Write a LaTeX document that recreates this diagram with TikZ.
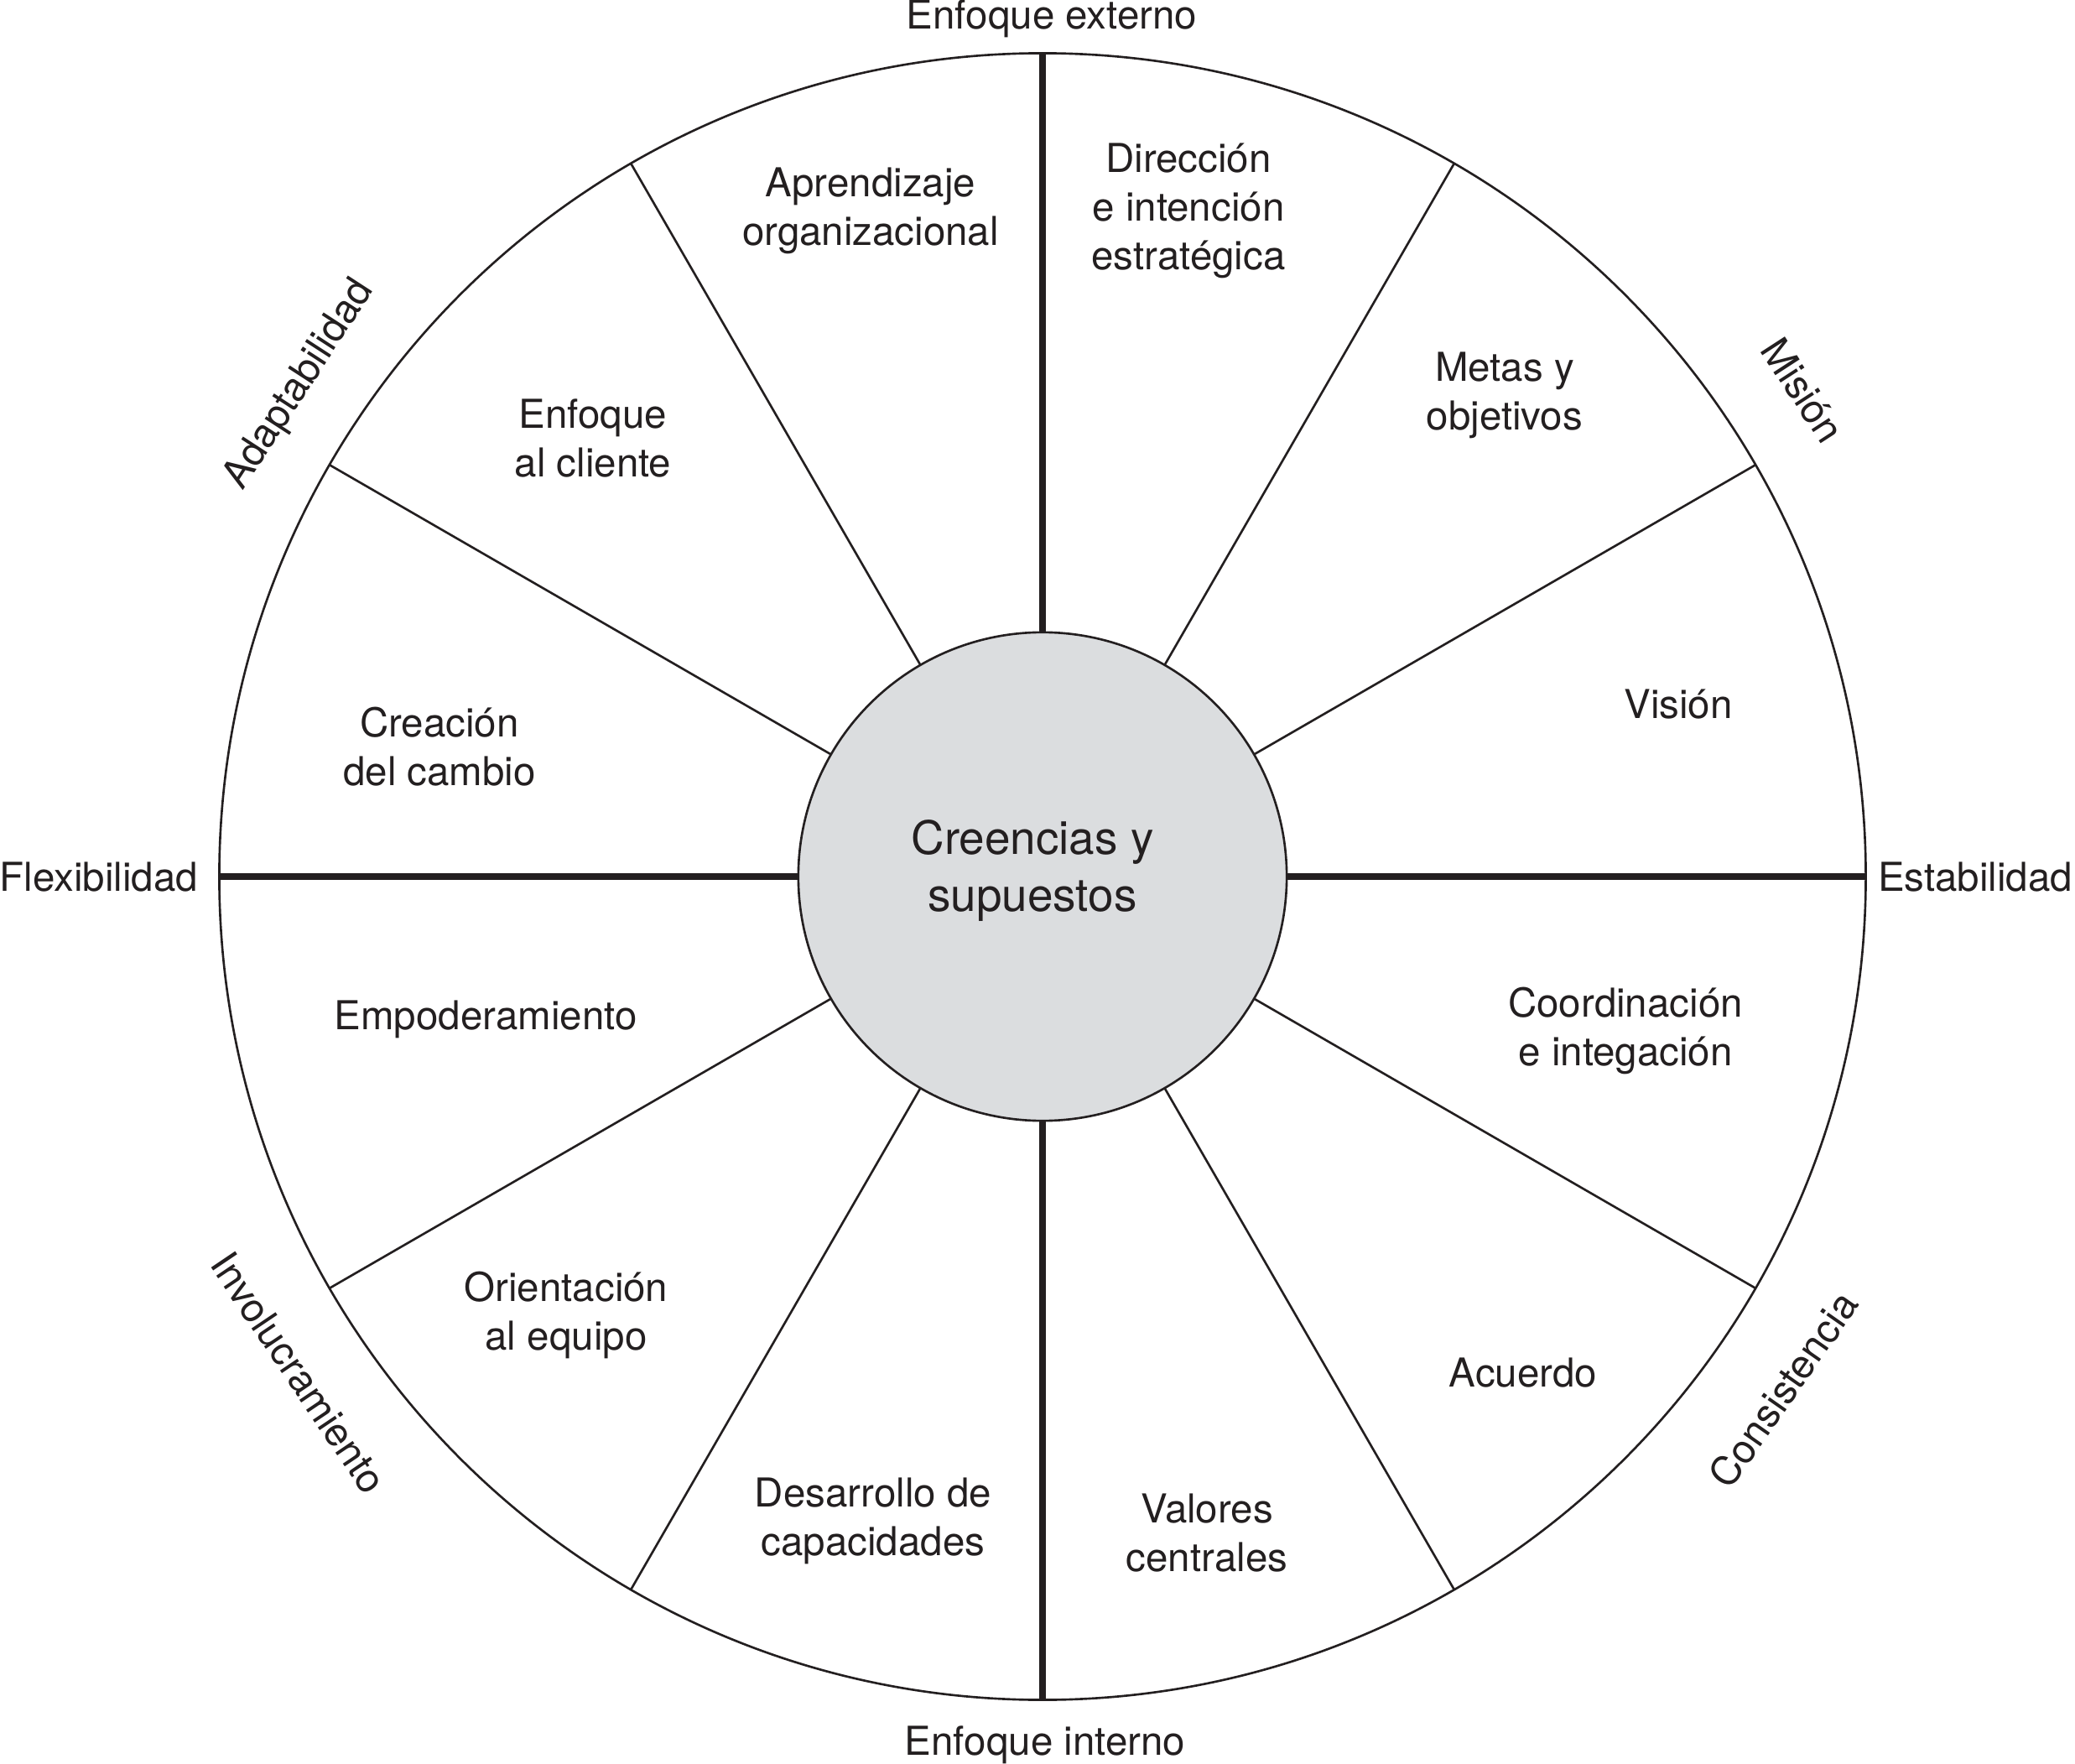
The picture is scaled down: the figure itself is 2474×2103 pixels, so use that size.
\documentclass[tikz,border=0pt]{standalone}
\usepackage{fontspec}
\setmainfont{TeX Gyre Heros}
\usetikzlibrary{calc}
\definecolor{ink}{HTML}{231F20}
\definecolor{core}{HTML}{DBDDDF}
\begin{document}
\begin{tikzpicture}[x=0.01cm,y=0.01cm,
  txt/.style={align=center,text=ink,inner sep=0pt,font=\fontsize{13.5}{16.5}\selectfont},
  big/.style={align=center,text=ink,inner sep=0pt,font=\fontsize{15.6}{19.3}\selectfont},
  thinline/.style={draw=ink,line width=0.75pt},
  thickline/.style={draw=ink,line width=2pt}]
\useasboundingbox (0,0) rectangle (2474,-2103);
\coordinate (O) at (1243,-1045);
\node[circle,thinline,minimum size=19.62cm,inner sep=0pt,outer sep=0pt] (rim) at (O) {};
\node[circle,thinline,fill=core,minimum size=5.82cm,inner sep=0pt,outer sep=0pt] (hub) at (O) {};
\foreach \a in {30,60,120,150,210,240,300,330}
  \draw[thinline] (hub.\a) -- (rim.\a);
\foreach \a in {0,90,180,270}
  \draw[thickline] (hub.\a) -- (rim.\a);
\node[big] (creencias) at (1231,-1038) {Creencias y\\supuestos};
% axis labels
\node[txt,anchor=base] (ext) at (1254,-35) {Enfoque externo};
\node[txt,anchor=base] (int) at (1246,-2092) {Enfoque interno};
\node[txt,anchor=base] (flex) at (118,-1062) {Flexibilidad};
\node[txt,anchor=base] (estab) at (2355,-1062) {Estabilidad};
% rotated labels
\node[txt,rotate=57] (adapt) at ($(O)+(146.5:1062)$) {Adaptabilidad};
\node[txt,rotate=-57] (mision) at ($(O)+(32.6:1076)$) {Misión};
\node[txt,rotate=-56] (invol) at ($(O)+(213.7:1066)$) {Involucramiento};
\node[txt,rotate=55] (consis) at ($(O)+(-34.7:1074)$) {Consistencia};
% sector labels
\node[txt] (aprend) at (1038,-251) {Aprendizaje\\organizacional};
\node[txt] (direc) at (1417,-251) {Dirección\\e intención\\estratégica};
\node[txt] (metas) at (1794,-471) {Metas y\\objetivos};
\node[txt] (cliente) at (707,-522) {Enfoque\\al cliente};
\node[txt] (vision) at (2001,-840) {Visión};
\node[txt] (cambio) at (524,-890) {Creación\\del cambio};
\node[txt] (empod) at (579,-1215) {Empoderamiento};
\node[txt] (coord) at (1938,-1229) {Coordinación\\e integación};
\node[txt] (equipo) at (675,-1568) {Orientación\\al equipo};
\node[txt] (acuerdo) at (1816,-1637) {Acuerdo};
\node[txt] (desarr) at (1041,-1813) {Desarrollo de\\capacidades};
\node[txt] (valores) at (1439,-1828) {Valores\\centrales};
\end{tikzpicture}
\end{document}
